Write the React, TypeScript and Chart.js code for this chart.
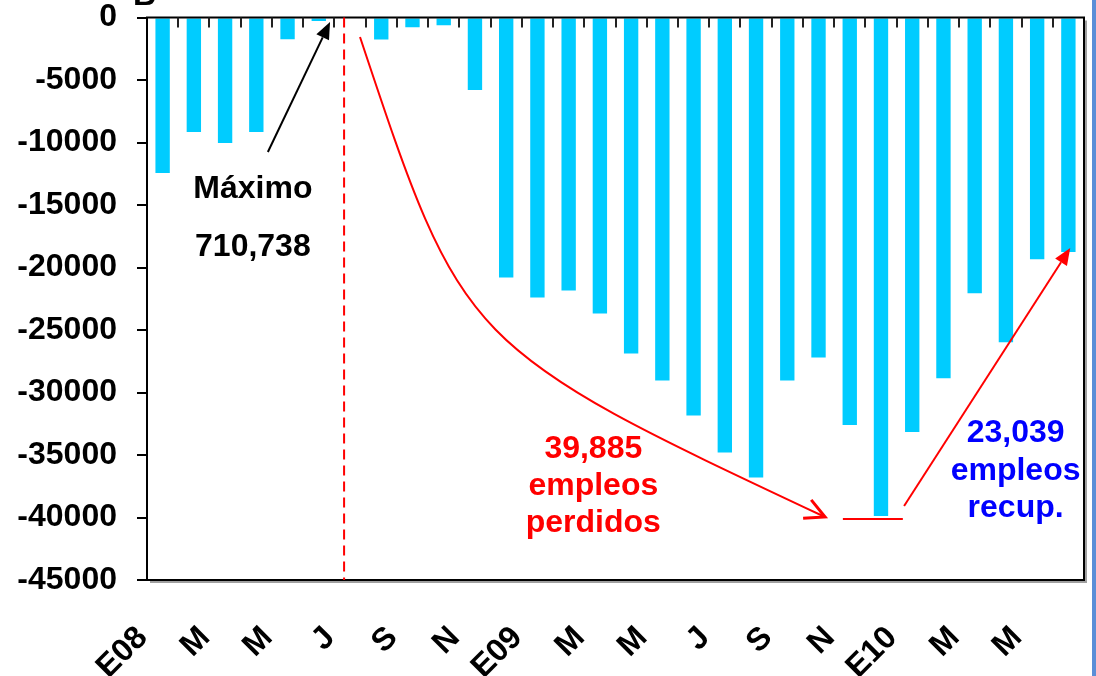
import React, { useEffect, useRef } from "react";
import { Chart, registerables } from "chart.js";

Chart.register(...registerables);

const FONT = "'Liberation Sans', Arial, Helvetica, sans-serif";

// Months Jan-2008 .. Jun-2010
const months = [
  "Ene08", "Feb08", "Mar08", "Abr08", "May08", "Jun08", "Jul08", "Ago08", "Sep08", "Oct08", "Nov08", "Dic08",
  "Ene09", "Feb09", "Mar09", "Abr09", "May09", "Jun09", "Jul09", "Ago09", "Sep09", "Oct09", "Nov09", "Dic09",
  "Ene10", "Feb10", "Mar10", "Abr10", "May10", "Jun10",
];
const axisLabels = [
  "E08", "", "M", "", "M", "", "J", "", "S", "", "N", "",
  "E09", "", "M", "", "M", "", "J", "", "S", "", "N", "",
  "E10", "", "M", "", "M", "",
];
// employment change vs. maximum (710,738)
const empleo = [
  -12430, -9150, -10030, -9150, -1740, -270, 0, -1760, -770, -610, -5800, -20800,
  -22400, -21830, -23670, -26870, -29030, -31830, -34790, -36800, -29040, -27190, -32600, -39885,
  -33150, -28850, -22050, -25970, -19340, -18750,
];
const yMin = -45000;
const yMax = 0;
const yStep = 5000;

// annotation anchors in data units: [category index, value]
const peakIndex = 5.81;
const maxArrowFrom = [3.37, -10760];
const maxArrowTo = [5.36, -360];
const maxText = ["Máximo", "710,738"];
const maxTextPos = [2.89, -14440, -19080];
const lossCurve = [[6.32, -1560], [9.62, -26360], [9.62, -26360], [21.21, -39960]];
const lowLine = [[21.78, -40120], [23.70, -40120]];
const recArrowFrom = [23.74, -39080];
const recArrowTo = [29.06, -18440];
const lossText = ["39,885", "empleos", "perdidos"];
const lossTextPos = [13.79, -35240, -38200, -41160];
const recText = ["23,039", "empleos", "recup."];
const recTextPos = [27.31, -33960, -37000, -39960];

const annotPlugin = {
  id: "annot",
  afterDatasetsDraw(chart: any) {
    const { ctx, chartArea: a, scales } = chart;
    const xs = scales.x;
    const ys = scales.y;
    const X = (i: number) => xs.getPixelForValue(i);
    const Y = (v: number) => ys.getPixelForValue(v);
    ctx.save();

    // plot-area shadow
    ctx.strokeStyle = "#a0a0a0";
    ctx.lineWidth = 2;
    ctx.beginPath();
    ctx.moveTo(a.right + 2, a.top + 3);
    ctx.lineTo(a.right + 2, a.bottom + 2);
    ctx.lineTo(a.left + 3, a.bottom + 2);
    ctx.stroke();

    // plot-area box
    ctx.strokeStyle = "#000";
    ctx.lineWidth = 2;
    ctx.strokeRect(a.left, a.top, a.right - a.left, a.bottom - a.top);

    // category ticks along the zero line
    ctx.strokeStyle = "#222";
    ctx.lineWidth = 2;
    for (let i = 1; i < months.length; i++) {
      const x = Math.round(X(i - 0.5));
      ctx.beginPath();
      ctx.moveTo(x, a.top);
      ctx.lineTo(x, a.top + 10);
      ctx.stroke();
    }

    // dashed vertical at the peak
    ctx.strokeStyle = "#ff0000";
    ctx.lineWidth = 2;
    ctx.setLineDash([10, 6]);
    ctx.beginPath();
    ctx.moveTo(X(peakIndex), a.top);
    ctx.lineTo(X(peakIndex), a.bottom);
    ctx.stroke();
    ctx.setLineDash([]);

    const filledArrow = (x0: number, y0: number, x1: number, y1: number, color: string) => {
      const ang = Math.atan2(y1 - y0, x1 - x0);
      const len = 17;
      const half = 7;
      const bx = x1 - len * Math.cos(ang);
      const by = y1 - len * Math.sin(ang);
      ctx.strokeStyle = color;
      ctx.fillStyle = color;
      ctx.lineWidth = 2;
      ctx.beginPath();
      ctx.moveTo(x0, y0);
      ctx.lineTo(bx, by);
      ctx.stroke();
      ctx.beginPath();
      ctx.moveTo(x1, y1);
      ctx.lineTo(bx + half * Math.sin(ang), by - half * Math.cos(ang));
      ctx.lineTo(bx - half * Math.sin(ang), by + half * Math.cos(ang));
      ctx.closePath();
      ctx.fill();
    };

    // Máximo arrow
    filledArrow(X(maxArrowFrom[0]), Y(maxArrowFrom[1]), X(maxArrowTo[0]), Y(maxArrowTo[1]), "#000");

    // loss curve with open arrow head
    const p = lossCurve.map(([i, v]) => [X(i), Y(v)]);
    ctx.strokeStyle = "#ff0000";
    ctx.lineWidth = 2;
    ctx.beginPath();
    ctx.moveTo(p[0][0], p[0][1]);
    ctx.bezierCurveTo(p[1][0], p[1][1], p[2][0], p[2][1], p[3][0], p[3][1]);
    ctx.stroke();
    {
      const ang = Math.atan2(p[3][1] - p[2][1], p[3][0] - p[2][0]);
      const tip = p[3];
      ctx.lineWidth = 3;
      ctx.beginPath();
      ctx.moveTo(tip[0] - 22 * Math.cos(ang - 0.5), tip[1] - 22 * Math.sin(ang - 0.5));
      ctx.lineTo(tip[0], tip[1]);
      ctx.lineTo(tip[0] - 22 * Math.cos(ang + 0.45), tip[1] - 22 * Math.sin(ang + 0.45));
      ctx.stroke();
    }

    // low line
    ctx.lineWidth = 2;
    ctx.beginPath();
    ctx.moveTo(X(lowLine[0][0]), Y(lowLine[0][1]));
    ctx.lineTo(X(lowLine[1][0]), Y(lowLine[1][1]));
    ctx.stroke();

    // recovery arrow
    filledArrow(X(recArrowFrom[0]), Y(recArrowFrom[1]), X(recArrowTo[0]), Y(recArrowTo[1]), "#ff0000");

    // texts
    ctx.font = `bold 32px ${FONT}`;
    ctx.textAlign = "center";
    ctx.textBaseline = "alphabetic";
    const lines = (txt: string[], pos: number[], color: string) => {
      ctx.fillStyle = color;
      txt.forEach((t, k) => ctx.fillText(t, X(pos[0]), Y(pos[k + 1])));
    };
    lines(maxText, maxTextPos, "#000");
    lines(lossText, lossTextPos, "#ff0000");
    lines(recText, recTextPos, "#0000ff");

    // clipped title fragment at the top
    ctx.fillStyle = "#000";
    ctx.textAlign = "left";
    ctx.fillText("B", a.left - 14, a.top - 12.5);

    ctx.restore();
  },
  afterDraw(chart: any) {
    const { ctx } = chart;
    ctx.save();
    ctx.fillStyle = "#5b8ed7";
    ctx.fillRect(chart.width - 4, 0, 4, chart.height);
    ctx.restore();
  },
};

export default function App() {
  const ref = useRef<HTMLCanvasElement | null>(null);
  useEffect(() => {
    if (!ref.current) return;
    Chart.defaults.font.family = FONT;
    const chart = new Chart(ref.current, {
      type: "bar",
      data: {
        labels: months,
        datasets: [
          {
            data: empleo,
            backgroundColor: "#00ccff",
            borderWidth: 0,
            barPercentage: 0.46,
            categoryPercentage: 1,
          },
        ],
      },
      options: {
        responsive: false,
        animation: false,
        devicePixelRatio: 1,
        layout: { padding: { top: 17.5, right: 12, left: 0, bottom: 0 } },
        plugins: { legend: { display: false }, tooltip: { enabled: false }, title: { display: false } },
        scales: {
          x: {
            grid: { display: false },
            border: { display: false },
            ticks: {
              autoSkip: false,
              maxRotation: 45,
              minRotation: 45,
              padding: 31,
              labelOffset: -20,
              color: "#000",
              font: { size: 32, weight: "bold" },
              callback: (_v: any, i: number) => axisLabels[i],
            },
            afterFit: (s: any) => {
              s.height = 96;
              s.paddingLeft = 0;
              s.paddingRight = 0;
            },
          },
          y: {
            min: yMin,
            max: yMax,
            grid: { drawOnChartArea: false, drawTicks: true, tickLength: 10, color: "#000", lineWidth: 2 },
            border: { display: false },
            ticks: {
              stepSize: yStep,
              padding: 20,
              color: "#000",
              font: { size: 32, weight: "bold", lineHeight: 1 },
              callback: (v: any) => String(v),
            },
            afterFit: (s: any) => {
              s.width = 147;
              s.paddingTop = 0;
              s.paddingBottom = 0;
            },
          },
        },
      },
      plugins: [annotPlugin],
    });
    return () => chart.destroy();
  }, []);
  return (
    <div style={{ position: "fixed", left: 0, top: 0, width: 1096, height: 676, background: "#fff" }}>
      <canvas ref={ref} width={1096} height={676} />
    </div>
  );
}
